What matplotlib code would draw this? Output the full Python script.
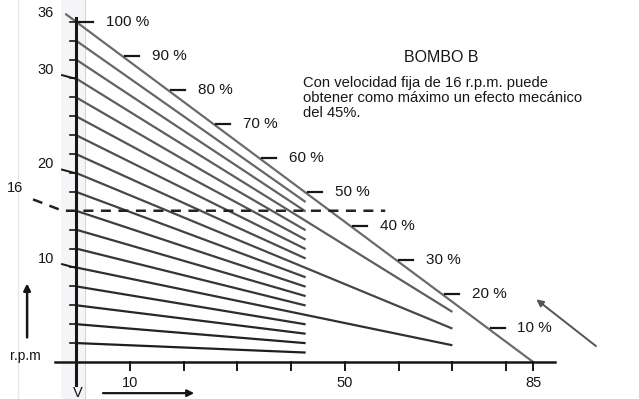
import matplotlib
matplotlib.use("Agg")
import matplotlib.pyplot as plt

plt.rcParams['font.family'] = ['Liberation Sans', 'DejaVu Sans']

# rpm where each line leaves the vertical axis, and the speed where it stops
start_rpm = [2, 4, 6, 8, 10, 12, 14, 16, 18, 20, 22, 24, 26, 28, 30, 32, 34, 36]
end_v = [42.7, 42.7, 42.7, 42.7, 70, 42.7, 42.7, 42.7, 42.7, 70,
         42.7, 42.7, 42.7, 42.7, 70, 42.7, 42.7, 85]
focus_v = 85          # all lines run towards this point on the V axis
max_rpm = 36

percents = [100, 90, 80, 70, 60, 50, 40, 30, 20, 10]
pct_labels = ['100 %', '90 %', '80 %', '70 %', '60 %', '50 %', '40 %', '30 %', '20 %', '10 %']

x_ticks = [10, 20, 30, 40, 50, 60, 70, 80, 85]
x_labels = ['10', '', '', '', '50', '', '', '', '85']
y_labels = [10, 20, 30, 36]
fixed_rpm = 16
fixed_end = 57.5

title = 'BOMBO B'
note_lines = ['Con velocidad fija de 16 r.p.m. puede',
              'obtener como máximo un efecto mecánico',
              'del 45%.']

ink = '#161616'

fig = plt.figure(figsize=(6.39, 3.99), dpi=100)
ax = fig.add_axes([0, 0, 1, 1])
ax.set_xlim(-14.14, 104.7)
ax.set_ylim(-3.92, 38.3)
ax.axis('off')

# faint page edges from the scan
ax.axvline(1.7, color='#c9c9d2', lw=1.2, zorder=0)
ax.axvline(-10.8, color='#e6e6ec', lw=1.0, zorder=0)
ax.axvspan(-2.8, 1.7, color='#f5f5f8', zorder=0, lw=0)

# fan of lines
for r, v in zip(start_rpm, end_v):
    y_end = r * (1 - v / focus_v)
    g = 0.10 + 0.32 * r / max_rpm
    x0 = -2.0 if r == max_rpm else 0
    y0 = r * (1 - x0 / focus_v)
    ax.plot([x0, v], [y0, y_end], color=(g, g, g), lw=1.6, solid_capstyle='butt', zorder=3)
    ax.plot([-1.2, 0], [r, r], color=ink, lw=1.2, zorder=4)

# axes
ax.plot([0, 0], [-2.4, 36.4], color=ink, lw=2.2, zorder=5)
ax.plot([-4, 89], [0, 0], color=ink, lw=1.8, zorder=5)
for xt, lab in zip(x_ticks, x_labels):
    ax.plot([xt, xt], [0, -0.8], color=ink, lw=1.4, zorder=5)
    if lab:
        ax.text(xt, -2.2, lab, ha='center', va='center', fontsize=10.5, color=ink)

for yl in y_labels:
    ax.text(-5.6, yl + 0.9, str(yl), ha='center', va='center', fontsize=10.5, color=ink)
    if yl != max_rpm:
        ax.plot([-2.6, -0.3], [yl + 0.35, yl], color=ink, lw=1.4, zorder=5)

# percent marks along the outer line
for p, lab in zip(percents, pct_labels):
    yr = max_rpm * p / 100
    xl = focus_v * (1 - p / 100)
    ax.plot([xl + 0.6, xl + 3.2], [yr, yr], color=ink, lw=1.6, zorder=4)
    ax.text(xl + 5.6, yr, lab, ha='left', va='center', fontsize=11, color=ink)

# fixed speed line at 16 rpm
ax.plot([-8, -2.5, fixed_end], [fixed_rpm + 1.2, fixed_rpm, fixed_rpm],
        color='#222', lw=1.8, dashes=(4, 3), zorder=6)
ax.text(-11.3, fixed_rpm + 2.4, str(fixed_rpm), ha='center', va='center', fontsize=10.5, color=ink)

# axis names and arrows
ax.text(-9.5, 0.6, 'r.p.m', ha='center', va='center', fontsize=10, color=ink)
ax.annotate('', xy=(-9.1, 8.6), xytext=(-9.1, 2.3),
            arrowprops=dict(arrowstyle='-|>', color=ink, lw=1.8, mutation_scale=10))
ax.text(0.3, -3.3, 'V', ha='center', va='center', fontsize=10.5, color=ink)
ax.annotate('', xy=(22.5, -3.3), xytext=(4.5, -3.3),
            arrowprops=dict(arrowstyle='-|>', color=ink, lw=1.6, mutation_scale=10))
ax.annotate('', xy=(85.2, 6.8), xytext=(97.1, 1.5),
            arrowprops=dict(arrowstyle='-|>', color='#555', lw=1.4, mutation_scale=10))

ax.text(67.9, 32.2, title, ha='center', va='center', fontsize=11.5, color=ink)
for i, line in enumerate(note_lines):
    ax.text(42.2, 29.5 - 1.6 * i, line, ha='left', va='center', fontsize=10.6, color=ink)

fig.savefig('out.png', dpi=100)
